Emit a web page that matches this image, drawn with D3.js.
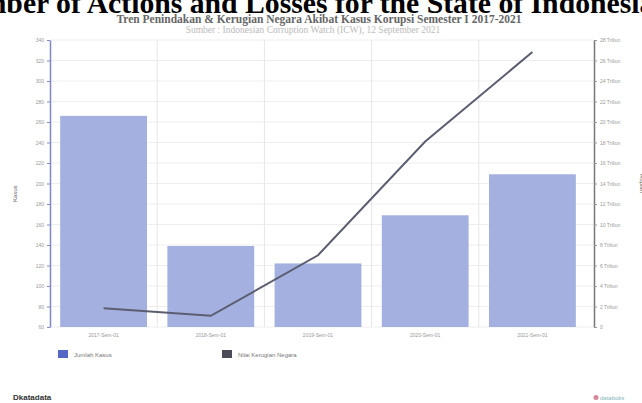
<!DOCTYPE html>
<html>
<head>
<meta charset="utf-8">
<script src="https://cdn.jsdelivr.net/npm/d3@7"></script>
<style>
  body { margin: 0; background: #fff; }
  svg { display: block; }
</style>
</head>
<body>
<div id="chart"></div>
<script>
// data
var periods = ["2017-Sem-01", "2018-Sem-01", "2019-Sem-01", "2020-Sem-01", "2021-Sem-01"];
var kasus = [266, 139, 122, 169, 209];
var kerugian = [1.83, 1.09, 7.0, 18.1, 26.83];   // triliun rupiah
var kasusTicks = d3.range(60, 341, 20);
var kerugianTicks = d3.range(0, 29, 2);

var svgWidth = 642, svgHeight = 403;
var margin = { top: 40, right: 48, bottom: 76, left: 50 };
var width = svgWidth - margin.left - margin.right;
var height = svgHeight - margin.top - margin.bottom;

var svg = d3.select("#chart").append("svg")
  .attr("width", svgWidth)
  .attr("height", svgHeight);

// big heading, overflows the page like the original
svg.append("text")
  .attr("x", 299).attr("y", 13)
  .attr("text-anchor", "middle")
  .attr("font-family", "Liberation Serif, Times New Roman, serif")
  .attr("font-weight", "bold")
  .attr("font-size", "29.7px")
  .attr("fill", "#000")
  .text("Number of Actions and Losses for the State of Indonesia");

svg.append("text")
  .attr("x", 319).attr("y", 23)
  .attr("text-anchor", "middle")
  .attr("font-family", "Liberation Serif, serif")
  .attr("font-weight", "bold")
  .attr("font-size", "11.5px")
  .attr("fill", "#666")
  .text("Tren Penindakan & Kerugian Negara Akibat Kasus Korupsi Semester I 2017-2021");

svg.append("text")
  .attr("x", 313).attr("y", 33)
  .attr("text-anchor", "middle")
  .attr("font-family", "Liberation Serif, serif")
  .attr("font-size", "9.5px")
  .attr("fill", "#bbb")
  .text("Sumber : Indonesian Corruption Watch (ICW), 12 September 2021");

var g = svg.append("g")
  .attr("transform", `translate(${margin.left}, ${margin.top})`);

var x = d3.scaleBand().domain(periods).range([0, 536]).paddingInner(0.19).paddingOuter(0.095);
var yL = d3.scaleLinear().domain([60, 340]).range([height, 0]);
var yR = d3.scaleLinear().domain([0, 28]).range([height, 0]);

// grid
g.append("g").selectAll("line")
  .data(kasusTicks)
  .enter().append("line")
  .attr("x1", 0).attr("x2", width)
  .attr("y1", d => yL(d)).attr("y2", d => yL(d))
  .attr("stroke", "#eee");

g.append("g").selectAll("line")
  .data(periods.slice(1))
  .enter().append("line")
  .attr("x1", d => x(d) - x.step() * x.paddingInner() / 2)
  .attr("x2", d => x(d) - x.step() * x.paddingInner() / 2)
  .attr("y1", 0).attr("y2", height)
  .attr("stroke", "#e6e6e6");

// bars
g.selectAll("rect.bar")
  .data(periods)
  .enter().append("rect")
  .attr("class", "bar")
  .attr("x", d => x(d))
  .attr("y", (d, i) => yL(kasus[i]))
  .attr("width", x.bandwidth())
  .attr("height", (d, i) => height - yL(kasus[i]))
  .attr("fill", "#a3b0e0");

// line
var line = d3.line()
  .x((d, i) => x(periods[i]) + x.bandwidth() / 2)
  .y(d => yR(d));

g.append("path")
  .datum(kerugian)
  .attr("d", line)
  .attr("fill", "none")
  .attr("stroke", "#5b5e70")
  .attr("stroke-width", 2);

// axes
var axL = g.append("g")
  .call(d3.axisLeft(yL).tickValues(kasusTicks).tickSize(3).tickSizeOuter(0));
axL.select(".domain").attr("stroke", "#7f89c8").attr("stroke-width", 1.5);
axL.selectAll(".tick line").attr("stroke", "#7f89c8");
axL.selectAll("text").attr("fill", "#999").attr("font-size", "5px").attr("font-family", "Liberation Sans, sans-serif");

var axR = g.append("g")
  .attr("transform", `translate(${width}, 0)`)
  .call(d3.axisRight(yR).tickValues(kerugianTicks).tickSize(3).tickSizeOuter(0)
    .tickFormat(d => d === 0 ? "0" : d + " Triliun"));
axR.select(".domain").attr("stroke", "#777").attr("stroke-width", 1.5);
axR.selectAll(".tick line").attr("stroke", "#999");
axR.selectAll("text").attr("fill", "#999").attr("font-size", "5px").attr("font-family", "Liberation Sans, sans-serif");

var axX = g.append("g")
  .attr("transform", `translate(0, ${height})`)
  .call(d3.axisBottom(x).tickSize(0));
axX.select(".domain").remove();
axX.selectAll("text").attr("fill", "#999").attr("font-size", "5px").attr("dy", "1.4em").attr("font-family", "Liberation Sans, sans-serif");

// axis titles
g.append("text")
  .attr("transform", `translate(-33, ${yL(190)}) rotate(-90)`)
  .attr("text-anchor", "middle")
  .attr("font-size", "6px")
  .attr("font-family", "Liberation Sans, sans-serif")
  .attr("fill", "#666")
  .text("Kasus");

g.append("text")
  .attr("transform", `translate(${width + 46}, ${yR(14)}) rotate(90)`)
  .attr("text-anchor", "middle")
  .attr("font-size", "6px")
  .attr("font-family", "Liberation Sans, sans-serif")
  .attr("fill", "#666")
  .text("Rupiah");

// legend
var legendItems = [
  { label: "Jumlah Kasus", color: "#5467c4", x: 58 },
  { label: "Nilai Kerugian Negara", color: "#4a4c57", x: 222 }
];
var legend = svg.append("g").selectAll("g")
  .data(legendItems)
  .enter().append("g")
  .attr("transform", d => `translate(${d.x}, 350)`);
legend.append("rect").attr("width", 10).attr("height", 8).attr("fill", d => d.color);
legend.append("text")
  .attr("x", 16).attr("y", 6.5)
  .attr("font-size", "6px")
  .attr("font-family", "Liberation Sans, sans-serif")
  .attr("fill", "#777")
  .text(d => d.label);

// footer logos
svg.append("text")
  .attr("x", 13).attr("y", 400)
  .attr("font-size", "8px")
  .attr("font-weight", "bold")
  .attr("font-family", "Liberation Sans, sans-serif")
  .attr("fill", "#333")
  .text("Dkatadata");
svg.append("circle").attr("cx", 596).attr("cy", 397.5).attr("r", 2.5).attr("fill", "#d8869a");
svg.append("text")
  .attr("x", 600).attr("y", 400)
  .attr("font-size", "6px")
  .attr("font-family", "Liberation Sans, sans-serif")
  .attr("fill", "#7fb7b9")
  .text("databoks");
</script>
</body>
</html>
